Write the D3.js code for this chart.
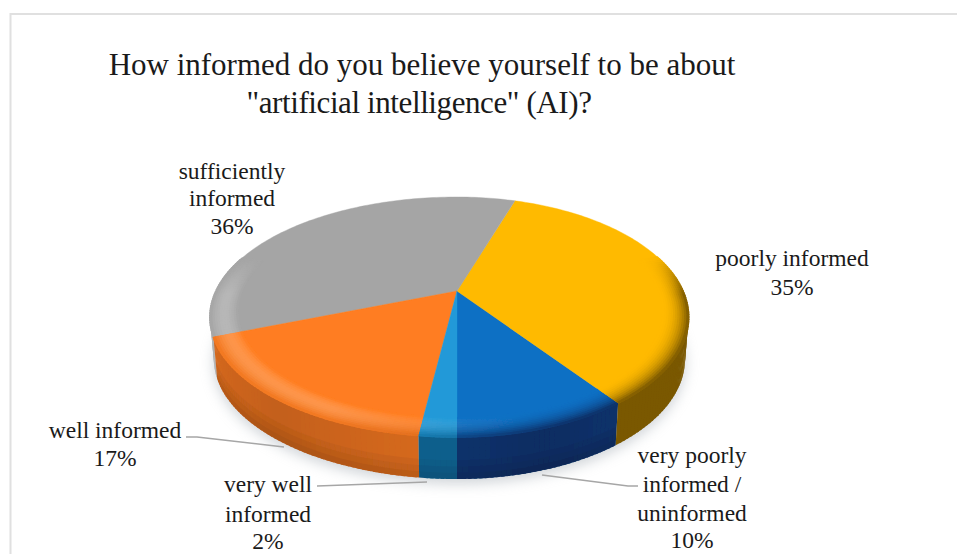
<!DOCTYPE html>
<html><head><meta charset="utf-8">
<style>html,body{margin:0;padding:0;background:#fff}svg{display:block}text{font-family:"Liberation Serif",serif;fill:#1a1a1a}</style>
<script src="https://cdn.jsdelivr.net/npm/d3@7"></script></head><body>
<script>
const categories=["very poorly informed / uninformed","poorly informed","sufficiently informed","well informed","very well informed"];
const values=[10,35,36,17,2];
const topColors=["#0d70c4","#ffba00","#a5a5a5","#ff7d20","#2199d8"];
const sideColors=["#0a2f66","#7a5800","#b0b0b0","#cc641c","#0e5f8c"];
const titleLines=["How informed do you believe yourself to be about","\"artificial intelligence\" (AI)?"];
const W=957,H=554;
const svg=d3.select("body").append("svg").attr("width",W).attr("height",H);
const defs=svg.append("defs");
defs.append("filter").attr("id","sh").attr("x","-20%").attr("y","-20%").attr("width","140%").attr("height","140%")
  .append("feGaussianBlur").attr("stdDeviation",7);
defs.append("filter").attr("id","soft").append("feGaussianBlur").attr("stdDeviation",0.6);
svg.append("path").attr("d","M10.5,554V14H957").attr("fill","none").attr("stroke","#e0e0e0").attr("stroke-width",2);

const apexX=457,apexY=291,k=0.2167,B=114.4,AR=226,AL=241,depth=42;
const sx=d3.scaleLinear().domain([-1,0,1]).range([-AL,0,AR]);
function proj(a,r,dz){const u=Math.sin(a)*r,v=Math.cos(a)*r,d=1-k*v,sc=dz?1-0.015*dz/depth:1;
  return [apexX+sx(u)/d*sc,apexY+B*v/d+(dz||0)];}
const pie=d3.pie().sort(null).startAngle(0).endAngle(2*Math.PI);
const arcs=pie(values).map((d,i)=>({...d,i,color:topColors[i],side:sideColors[i]}));
const line=d3.line();
const samples=(a0,a1)=>{const n=Math.max(2,Math.ceil((a1-a0)/0.02));return d3.range(n+1).map(j=>a0+(a1-a0)*j/n);};
const all=samples(0,2*Math.PI);
const g=svg.append("g").attr("filter","url(#soft)");
svg.insert("path","g").attr("d",line(all.map(a=>proj(a,1.0,depth+4)))+"Z").attr("fill","#9aa3ab").attr("opacity",.5).attr("filter","url(#sh)");
// side columns
arcs.forEach(d=>{
  const s=samples(d.startAngle,d.endAngle);
  const n=s.length-1;
  for(let j=0;j<n;j++){
    const a0=s[j],a1=Math.min(d.endAngle,s[j+1]+0.012),m=(s[j]+s[j+1])/2;
    if(Math.cos(m)<-0.3)continue;
    const tm=(m-d.startAngle)/(d.endAngle-d.startAngle);
    let col=d3.rgb(d.side);
    if(d.i===3||d.i===0) col=d3.interpolateRgb(d3.rgb(d.side).darker(.12),d3.rgb(d.side).brighter(.12))(Math.abs(tm-.5)*2);
    g.append("path").attr("d",line([proj(a0,1,0),proj(a1,1,0),proj(a1,1,depth),proj(a0,1,depth)])+"Z").attr("fill",col);
  }
});
// vertical shading of the side
const bandT=[.55,.7,.85,1];
const bandA=[.04,.08,.12];
arcs.filter(d=>d.i!==1&&d.i!==2).forEach(d=>{
  const s=samples(d.startAngle,d.endAngle).filter(a=>Math.cos(a)>=-0.3);
  if(s.length<2)return;
  bandA.forEach((o,b)=>{
    const top=s.map(a=>proj(a,1,depth*bandT[b])),bot=s.map(a=>proj(a,1,depth*bandT[b+1])).reverse();
    g.append("path").attr("d",line(top.concat(bot))+"Z").attr("fill","#000").attr("opacity",o);
  });
});
// top face
arcs.forEach(d=>{
  const s=samples(d.startAngle,d.endAngle);
  g.append("path").attr("d",line([[apexX,apexY],...s.map(a=>proj(a,1))])+"Z").attr("fill",d.color).attr("stroke",d.color).attr("stroke-width",.4);
});
// bevel rings
const ringR=d3.range(0,13).map(j=>.89+j*.11/12);
arcs.forEach(d=>{
  const c=d3.rgb(d.color);
  const s=samples(d.startAngle,d.endAngle);
  for(let j=0;j<s.length-1;j++){
    const a0=s[j],a1=Math.min(d.endAngle,s[j+1]+0.012),m=(s[j]+s[j+1])/2;
    const front=Math.cos(m),right=Math.sin(m);
    const vis=Math.min(1,Math.max(0,(front+0.32)/0.35));
    if(vis<=0)continue;
    const facing=Math.max(0,front*0.45+right*0.9);
    ringR.slice(0,-1).forEach((r,b)=>{
      const t=(b+.5)/(ringR.length-1);
      const hi=Math.sin(t*Math.PI)*0.2*Math.max(0,1-facing*1.4)*vis;
      const dk=Math.pow(t,2.2)*(0.25+0.75*Math.min(1,facing*1.3))*vis;
      const col=d3.interpolateRgb(d3.interpolateRgb(c,"#fff")(hi),d.side)(d.i===2?0:dk);
      g.append("path").attr("d",line([proj(a0,r),proj(a1,r),proj(a1,ringR[b+1]+.004),proj(a0,ringR[b+1]+.004)])+"Z").attr("fill",col);
    });
  }
});
// title
svg.append("text").attr("x",422).attr("y",75).attr("text-anchor","middle").attr("font-size",31).text(titleLines[0]);
svg.append("text").attr("x",419).attr("y",113).attr("text-anchor","middle").attr("font-size",31).attr("letter-spacing",-0.4).text(titleLines[1]);
// labels
const labelData=[
 {i:0,x:692,ys:[463,492,521,548],t:["very poorly","informed /","uninformed","10%"]},
 {i:1,x:792,ys:[266,295],t:["poorly informed","35%"]},
 {i:2,x:232,ys:[179,206,234],t:["sufficiently","informed","36%"]},
 {i:3,x:115,ys:[438,466],t:["well informed","17%"]},
 {i:4,x:268,ys:[492,522,549],t:["very well","informed","2%"]}];
labelData.forEach(l=>l.t.forEach((t,j)=>svg.append("text").attr("x",l.x).attr("y",l.ys[j]).attr("text-anchor","middle").attr("font-size",23.5).text(t)));
// leaders
const leaders=[[[638,486],[628,486],[542,475]],[[186,437],[197,437],[284,447]],[[317,486],[427,482]]];
leaders.forEach(p=>svg.append("path").attr("d",line(p)).attr("fill","none").attr("stroke","#a6a6a6").attr("stroke-width",1.6));
</script></body></html>
